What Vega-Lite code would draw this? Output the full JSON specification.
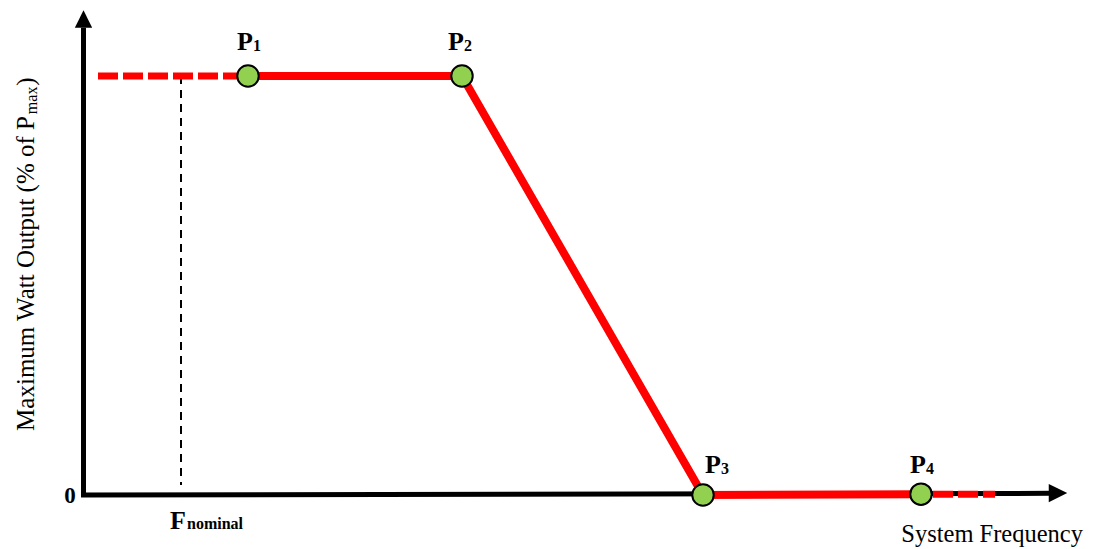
{
  "$schema": "https://vega.github.io/schema/vega-lite/v6.json",
  "width": 1100,
  "height": 549,
  "padding": 0,
  "autosize": {"type": "fit", "contains": "padding"},
  "background": "white",
  "config": {"view": {"stroke": null}},
  "datasets": {
    "axes": [
      {"x": 0.05, "y": -0.5, "x2": 0.05, "y2": 111.5},
      {"x": -0.2, "y": 0, "x2": 96.8, "y2": 0.4}
    ],
    "arrowUp": [{"x": 0.05, "y": 113.6}],
    "arrowRight": [{"x": 97.5, "y": 0.45}],
    "fnom": [{"x": 9.8, "y": 100, "x2": 9.8, "y2": 2.4}],
    "redDash": [
      {"x": 1.5, "y": 100, "x2": 16.5, "y2": 100},
      {"x": 85.0, "y": 0.2, "x2": 91.2, "y2": 0.2}
    ],
    "curve": [
      {"x": 16.5, "y": 100, "name": "P1"},
      {"x": 37.9, "y": 100, "name": "P2"},
      {"x": 62.0, "y": 0, "name": "P3"},
      {"x": 83.8, "y": 0.2, "name": "P4"}
    ],
    "mainLabels": [
      {"x": 15.4, "y": 106.2, "t": "P"},
      {"x": 36.5, "y": 106.2, "t": "P"},
      {"x": 62.2, "y": 5.25, "t": "P"},
      {"x": 82.7, "y": 5.25, "t": "P"},
      {"x": 8.7, "y": -8.1, "t": "F"}
    ],
    "subLabels": [
      {"x": 17.0, "y": 106.0, "t": "1"},
      {"x": 38.1, "y": 106.0, "t": "2"},
      {"x": 63.8, "y": 5.0, "t": "3"},
      {"x": 84.3, "y": 5.0, "t": "4"},
      {"x": 10.4, "y": -8.2, "t": "nominal"}
    ],
    "zero": [{"x": -1.3, "y": -1.9, "t": "0"}],
    "xtitle": [{"x": 100.0, "y": -11.15, "t": "System Frequency"}],
    "ytitleMain": [
      {"x": -4.9, "y": 15.3, "t": "Maximum Watt Output (% of P"},
      {"x": -4.9, "y": 97.7, "t": ")"}
    ],
    "ytitleSub": [{"x": -4.6, "y": 90.9, "t": "max"}]
  },
  "encoding": {
    "x": {"field": "x", "type": "quantitative", "scale": {"domain": [-8.3, 101.7], "nice": false, "zero": false}, "axis": null},
    "y": {"field": "y", "type": "quantitative", "scale": {"domain": [-12.888, 118.138], "nice": false, "zero": false}, "axis": null}
  },
  "layer": [
    {
      "data": {"name": "axes"},
      "mark": {"type": "rule", "color": "black", "strokeWidth": 5},
      "encoding": {"x2": {"field": "x2"}, "y2": {"field": "y2"}}
    },
    {
      "data": {"name": "arrowUp"},
      "mark": {"type": "point", "shape": "M-1,1L0,-1L1,1Z", "filled": true, "color": "black", "size": 300, "opacity": 1}
    },
    {
      "data": {"name": "arrowRight"},
      "mark": {"type": "point", "shape": "M-1,-1L1,0L-1,1Z", "filled": true, "color": "black", "size": 340, "opacity": 1}
    },
    {
      "data": {"name": "fnom"},
      "mark": {"type": "rule", "color": "black", "strokeWidth": 2, "strokeDash": [8, 6]},
      "encoding": {"x2": {"field": "x2"}, "y2": {"field": "y2"}}
    },
    {
      "data": {"name": "redDash"},
      "mark": {"type": "rule", "color": "#ff0000", "strokeWidth": 7, "strokeDash": [20, 5]},
      "encoding": {"x2": {"field": "x2"}, "y2": {"field": "y2"}}
    },
    {
      "data": {"name": "curve"},
      "mark": {"type": "line", "color": "#ff0000", "strokeWidth": 8, "strokeJoin": "miter"},
      "encoding": {}
    },
    {
      "data": {"name": "curve"},
      "mark": {"type": "point", "shape": "circle", "filled": true, "fill": "#92d050", "stroke": "black", "strokeWidth": 2, "size": 460, "opacity": 1}
    },
    {
      "data": {"name": "mainLabels"},
      "mark": {"type": "text", "font": "Liberation Serif", "fontWeight": "bold", "fontSize": 26, "align": "left", "baseline": "alphabetic", "color": "black"},
      "encoding": {"text": {"field": "t"}}
    },
    {
      "data": {"name": "subLabels"},
      "mark": {"type": "text", "font": "Liberation Serif", "fontWeight": "bold", "fontSize": 16, "align": "left", "baseline": "alphabetic", "color": "black"},
      "encoding": {"text": {"field": "t"}}
    },
    {
      "data": {"name": "zero"},
      "mark": {"type": "text", "font": "Liberation Serif", "fontWeight": "bold", "fontSize": 23, "align": "center", "baseline": "alphabetic", "color": "black"},
      "encoding": {"text": {"field": "t"}}
    },
    {
      "data": {"name": "xtitle"},
      "mark": {"type": "text", "font": "Liberation Serif", "fontSize": 24.5, "align": "right", "baseline": "alphabetic", "color": "black"},
      "encoding": {"text": {"field": "t"}}
    },
    {
      "data": {"name": "ytitleMain"},
      "mark": {"type": "text", "font": "Liberation Serif", "fontSize": 25, "angle": 270, "align": "left", "baseline": "alphabetic", "color": "black"},
      "encoding": {"text": {"field": "t"}}
    },
    {
      "data": {"name": "ytitleSub"},
      "mark": {"type": "text", "font": "Liberation Serif", "fontSize": 16, "angle": 270, "align": "left", "baseline": "alphabetic", "color": "black"},
      "encoding": {"text": {"field": "t"}}
    }
  ]
}
